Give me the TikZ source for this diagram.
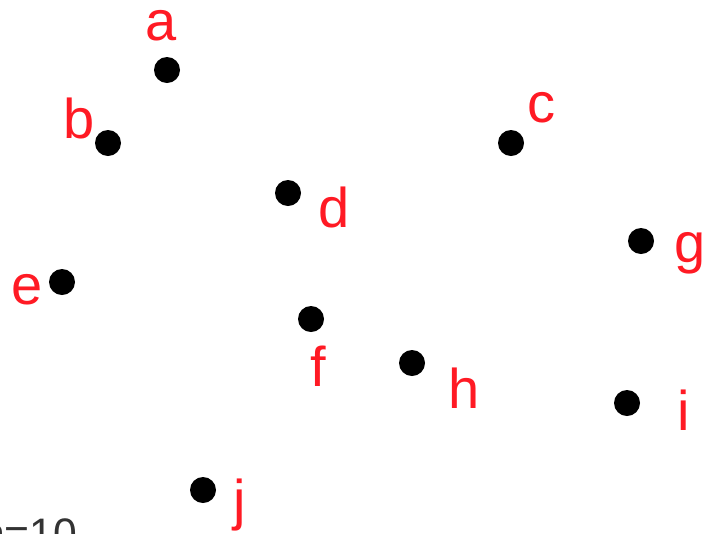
\documentclass[tikz,border=0pt]{standalone}
\usepackage{fontspec}
\setmainfont{Liberation Sans}
\usetikzlibrary{positioning}
\definecolor{ptred}{HTML}{FF1A24}

\begin{document}
\begin{tikzpicture}[x=0.75pt, y=-0.75pt,
    pt/.style={circle, fill=black, inner sep=0pt, minimum size=19.5pt},
    lbl/.style={text=ptred, font=\fontsize{42}{42}\selectfont, inner sep=0pt}]
  \useasboundingbox (0,0) rectangle (706,533);
  % points
  \node[pt] (a) at (167,70) {};
  \node[pt] (b) at (108,143) {};
  \node[pt] (c) at (511,143) {};
  \node[pt] (d) at (288,193) {};
  \node[pt] (e) at (62,282) {};
  \node[pt] (f) at (311,319) {};
  \node[pt] (g) at (641,241) {};
  \node[pt] (h) at (412,363) {};
  \node[pt] (i) at (627,403) {};
  \node[pt] (j) at (203,490) {};
  % names
  \node[lbl] (la) at (161,26) {a};
  \node[lbl] (lb) at (79,118) {b};
  \node[lbl] (lc) at (541,108) {c};
  \node[lbl] (ld) at (334,207) {d};
  \node[lbl] (le) at (27,290) {e};
  \node[lbl] (lf) at (318,366) {f};
  \node[lbl] (lg) at (690,253) {g};
  \node[lbl] (lh) at (464,388) {h};
  \node[lbl] (li) at (684,410) {i};
  \node[lbl] (lj) at (240,505) {j};
  % count
  \node[anchor=base west, inner sep=0pt, text=black!80,
    font=\fontsize{32}{32}\selectfont] (n) at (-19,548) {n=10};
\end{tikzpicture}
\end{document}
